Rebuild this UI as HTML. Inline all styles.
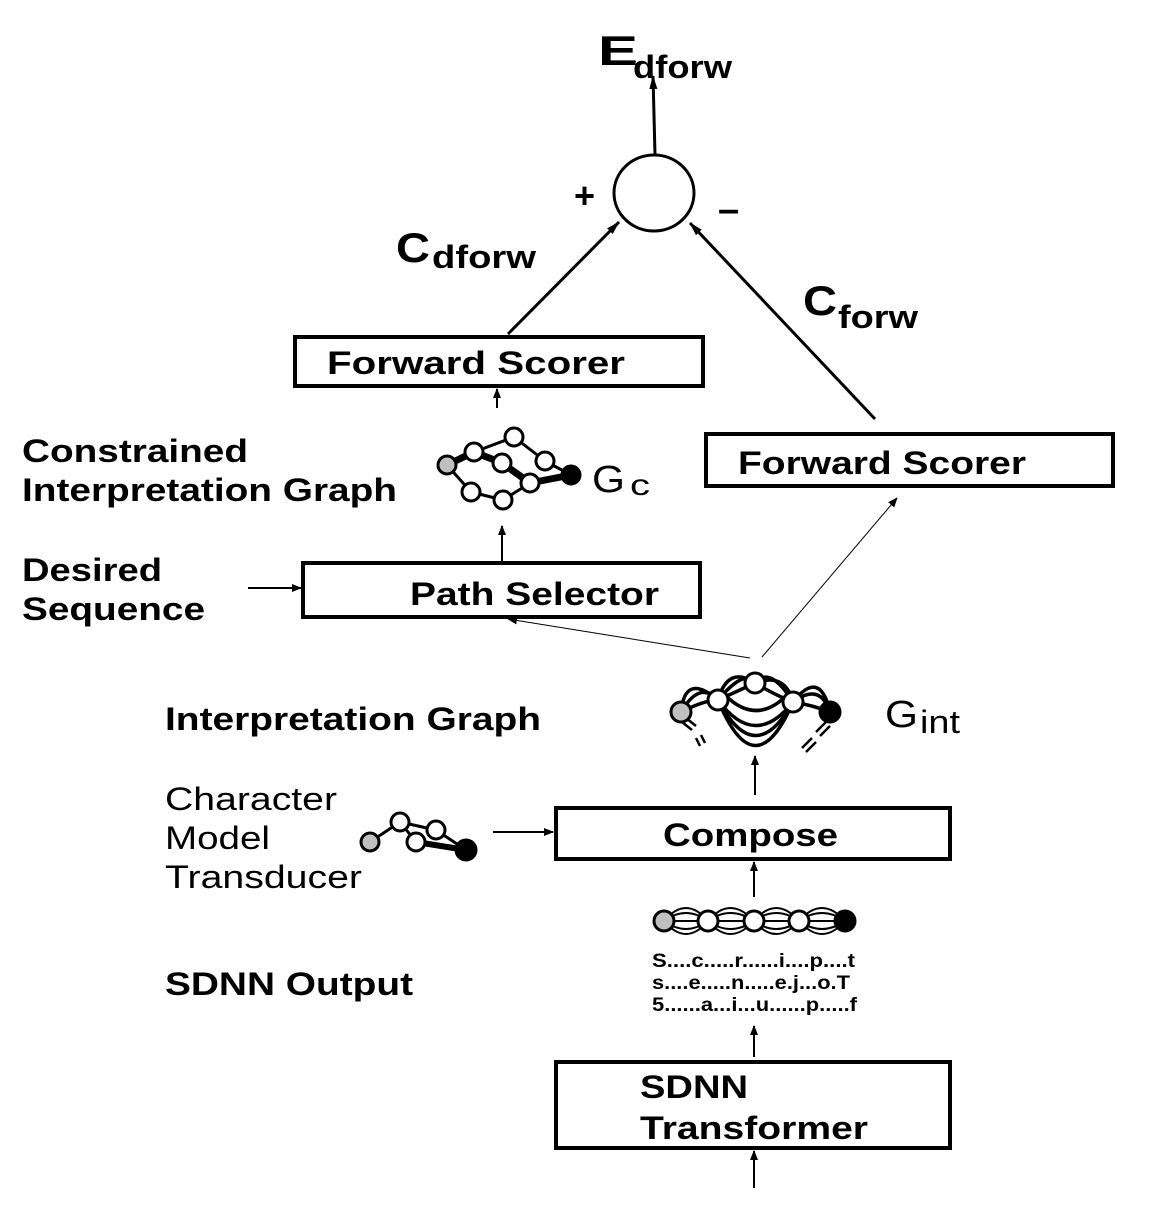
<!DOCTYPE html>
<html><head><meta charset="utf-8"><style>
html,body{margin:0;padding:0;background:#fff;}
svg{display:block;font-family:"Liberation Sans",Arial,sans-serif;}
.b{font-weight:bold;}
</style></head><body>
<svg width="1152" height="1208" viewBox="0 0 1152 1208" xmlns="http://www.w3.org/2000/svg">
<defs>
<marker id="a" markerWidth="10" markerHeight="10" refX="9" refY="5" orient="auto" markerUnits="userSpaceOnUse" viewBox="0 0 10 10"><path d="M0,1 L10,5 L0,9 z" fill="#000"/></marker>
<marker id="as" markerWidth="14" markerHeight="10" refX="13" refY="5" orient="auto" markerUnits="userSpaceOnUse" viewBox="0 0 14 10"><path d="M0,1 L14,5 L0,9 z" fill="#000"/></marker>
</defs>
<g fill="#000" lengthAdjust="spacingAndGlyphs">
<text x="598" y="65" class="b" font-size="42" textLength="40" lengthAdjust="spacingAndGlyphs">E</text>
<text x="633" y="78" class="b" font-size="32" textLength="99" lengthAdjust="spacingAndGlyphs">dforw</text>
<text x="396" y="262" class="b" font-size="42" textLength="34" lengthAdjust="spacingAndGlyphs">C</text>
<text x="432" y="268" class="b" font-size="32" textLength="104" lengthAdjust="spacingAndGlyphs">dforw</text>
<text x="803" y="315" class="b" font-size="42" textLength="34" lengthAdjust="spacingAndGlyphs">C</text>
<text x="838" y="328" class="b" font-size="32" textLength="80" lengthAdjust="spacingAndGlyphs">forw</text>
<text x="574" y="208" class="b" font-size="36">+</text>
<text x="718" y="222" class="b" font-size="38">–</text>
<text x="22" y="462" class="b" font-size="32" textLength="226" lengthAdjust="spacingAndGlyphs">Constrained</text>
<text x="22" y="501" class="b" font-size="32" textLength="375" lengthAdjust="spacingAndGlyphs">Interpretation Graph</text>
<text x="22" y="581" class="b" font-size="32" textLength="140" lengthAdjust="spacingAndGlyphs">Desired</text>
<text x="22" y="620" class="b" font-size="32" textLength="183" lengthAdjust="spacingAndGlyphs">Sequence</text>
<text x="165" y="730" class="b" font-size="32" textLength="376" lengthAdjust="spacingAndGlyphs">Interpretation Graph</text>
<text x="165" y="810" font-size="32" textLength="172" lengthAdjust="spacingAndGlyphs">Character</text>
<text x="165" y="849" font-size="32" textLength="105" lengthAdjust="spacingAndGlyphs">Model</text>
<text x="165" y="888" font-size="32" textLength="197" lengthAdjust="spacingAndGlyphs">Transducer</text>
<text x="165" y="995" class="b" font-size="32" textLength="248" lengthAdjust="spacingAndGlyphs">SDNN Output</text>
<text x="592" y="492" font-size="38" textLength="33" lengthAdjust="spacingAndGlyphs">G</text>
<text x="630" y="495" font-size="30" textLength="20" lengthAdjust="spacingAndGlyphs">c</text>
<text x="885" y="727" font-size="38" textLength="33" lengthAdjust="spacingAndGlyphs">G</text>
<text x="920" y="733" font-size="32" textLength="40" lengthAdjust="spacingAndGlyphs">int</text>
<text x="652" y="967" class="b" font-size="19" textLength="203" lengthAdjust="spacingAndGlyphs">S....c.....r......i....p....t</text>
<text x="652" y="989" class="b" font-size="19" textLength="198" lengthAdjust="spacingAndGlyphs">s....e.....n.....e.j...o.T</text>
<text x="652" y="1011" class="b" font-size="19" textLength="205" lengthAdjust="spacingAndGlyphs">5......a...i...u......p.....f</text>
</g>
<g fill="none" stroke="#000" stroke-width="4">
<rect x="295" y="337" width="408" height="49"/>
<rect x="706" y="434" width="407" height="52"/>
<rect x="303" y="563" width="397" height="54"/>
<rect x="556" y="808" width="394" height="51"/>
<rect x="556" y="1062" width="394" height="86"/>
</g>
<g class="b" font-size="32">
<text x="327" y="374" textLength="298" lengthAdjust="spacingAndGlyphs">Forward  Scorer</text>
<text x="738" y="474" textLength="288" lengthAdjust="spacingAndGlyphs">Forward Scorer</text>
<text x="410" y="605" textLength="249" lengthAdjust="spacingAndGlyphs">Path Selector</text>
<text x="663" y="846" textLength="175" lengthAdjust="spacingAndGlyphs">Compose</text>
<text x="640" y="1098" textLength="108" lengthAdjust="spacingAndGlyphs">SDNN</text>
<text x="640" y="1139" textLength="228" lengthAdjust="spacingAndGlyphs">Transformer</text>
</g>
<ellipse cx="654" cy="193" rx="40" ry="38" fill="none" stroke="#000" stroke-width="3"/>
<g stroke="#000" stroke-width="3" fill="none">
<line x1="655" y1="155" x2="653" y2="76" marker-end="url(#as)"/>
<line x1="508" y1="334" x2="619" y2="222" marker-end="url(#as)"/>
<line x1="875" y1="419" x2="690" y2="223" marker-end="url(#as)"/>
</g>
<g stroke="#000" stroke-width="2" fill="none">
<line x1="497" y1="408" x2="497" y2="389" marker-end="url(#a)"/>
<line x1="502" y1="562" x2="502" y2="526" marker-end="url(#a)"/>
<line x1="248" y1="588" x2="301" y2="588" marker-end="url(#a)"/>
<line x1="755" y1="795" x2="755" y2="756" marker-end="url(#a)"/>
<line x1="493" y1="832" x2="553" y2="832" marker-end="url(#a)"/>
<line x1="754" y1="897" x2="754" y2="862" marker-end="url(#a)"/>
<line x1="754" y1="1057" x2="754" y2="1026" marker-end="url(#a)"/>
<line x1="754" y1="1188" x2="754" y2="1151" marker-end="url(#a)"/>
</g>
<g stroke="#000" stroke-width="1" fill="none">
<line x1="750" y1="658" x2="508" y2="619" marker-end="url(#a)"/>
<line x1="762" y1="657" x2="897" y2="498" marker-end="url(#a)"/>
</g>
<!-- Gc graph -->
<g stroke="#000" fill="none">
<line x1="447" y1="465" x2="474" y2="452" stroke-width="7"/>
<line x1="474" y1="452" x2="514" y2="437" stroke-width="3"/>
<line x1="514" y1="437" x2="545" y2="461" stroke-width="3"/>
<line x1="545" y1="461" x2="571" y2="475" stroke-width="3"/>
<line x1="474" y1="452" x2="502" y2="463" stroke-width="7"/>
<line x1="502" y1="463" x2="530" y2="483" stroke-width="7"/>
<line x1="530" y1="483" x2="571" y2="475" stroke-width="7"/>
<line x1="447" y1="465" x2="471" y2="492" stroke-width="3"/>
<line x1="471" y1="492" x2="503" y2="500" stroke-width="3"/>
<line x1="503" y1="500" x2="530" y2="483" stroke-width="3"/>
</g>
<g stroke="#000" stroke-width="3" fill="#fff">
<circle cx="447" cy="465" r="9" fill="#c0c0c0"/>
<circle cx="474" cy="452" r="9"/><circle cx="514" cy="437" r="9"/>
<circle cx="502" cy="463" r="9"/><circle cx="545" cy="461" r="9"/>
<circle cx="530" cy="483" r="9"/><circle cx="471" cy="492" r="9"/>
<circle cx="503" cy="500" r="9"/>
<circle cx="571" cy="475" r="9" fill="#000"/>
</g>
<!-- Gint graph -->
<g stroke="#000" stroke-width="3.5" fill="none">
<path d="M681,712 Q685,672 718,700"/><path d="M681,712 Q700,680 718,700"/><path d="M681,712 Q705,700 718,700"/>
<path d="M718,700 Q728,665 755,683"/><path d="M718,700 Q745,668 755,683"/><path d="M718,700 Q740,690 755,683"/>
<path d="M755,683 Q770,665 793,702"/><path d="M755,683 Q785,672 793,702"/><path d="M755,683 Q775,695 793,702"/>
<path d="M793,702 Q820,668 830,712"/><path d="M793,702 Q820,682 830,712"/><path d="M793,702 Q812,705 830,712"/>
<path d="M718,700 Q755,790 793,702"/><path d="M718,700 Q755,770 793,702"/><path d="M718,700 Q755,750 793,702"/>
<path d="M725,695 Q755,725 785,697"/>
<line x1="682" y1="722" x2="692" y2="730" stroke-width="2.5"/><line x1="686" y1="718" x2="696" y2="726" stroke-width="2.5"/>
<line x1="696" y1="738" x2="700" y2="746" stroke-width="2.5"/><line x1="701" y1="735" x2="705" y2="743" stroke-width="2.5"/>
<line x1="826" y1="722" x2="816" y2="732" stroke-width="2.5"/><line x1="830" y1="726" x2="820" y2="736" stroke-width="2.5"/>
<line x1="812" y1="738" x2="802" y2="748" stroke-width="2.5"/><line x1="816" y1="742" x2="806" y2="752" stroke-width="2.5"/>
</g>
<g stroke="#000" stroke-width="3" fill="#fff">
<circle cx="681" cy="712" r="10" fill="#c0c0c0"/>
<circle cx="718" cy="700" r="10"/><circle cx="755" cy="683" r="10"/><circle cx="793" cy="702" r="10"/>
<circle cx="830" cy="712" r="10" fill="#000"/>
</g>
<!-- char model -->
<g stroke="#000" fill="none">
<line x1="370" y1="842" x2="400" y2="822" stroke-width="3"/>
<line x1="400" y1="822" x2="436" y2="830" stroke-width="3"/>
<line x1="400" y1="822" x2="416" y2="842" stroke-width="3"/>
<line x1="436" y1="830" x2="466" y2="850" stroke-width="3"/>
<line x1="416" y1="842" x2="466" y2="850" stroke-width="6"/>
</g>
<g stroke="#000" stroke-width="3" fill="#fff">
<circle cx="370" cy="842" r="9" fill="#c0c0c0"/>
<circle cx="400" cy="822" r="9"/><circle cx="436" cy="830" r="9"/><circle cx="416" cy="842" r="9"/>
<circle cx="466" cy="850" r="10" fill="#000"/>
</g>
<!-- SDNN chain -->
<g stroke="#000" stroke-width="2" fill="none">
<path d="M664,921 Q686,895 708,921 Q730,895 754,921 Q776,895 799,921 Q822,895 845,921"/>
<path d="M664,921 Q686,947 708,921 Q730,947 754,921 Q776,947 799,921 Q822,947 845,921"/>
<path d="M664,921 Q686,905 708,921 Q730,905 754,921 Q776,905 799,921 Q822,905 845,921"/>
<path d="M664,921 Q686,937 708,921 Q730,937 754,921 Q776,937 799,921 Q822,937 845,921"/>
<line x1="664" y1="921" x2="845" y2="921"/>
</g>
<g stroke="#000" stroke-width="3" fill="#fff">
<circle cx="664" cy="921" r="10" fill="#c0c0c0"/>
<circle cx="708" cy="921" r="10"/><circle cx="754" cy="921" r="10"/><circle cx="799" cy="921" r="10"/>
<circle cx="845" cy="921" r="10" fill="#000"/>
</g>
</svg>
</body></html>
